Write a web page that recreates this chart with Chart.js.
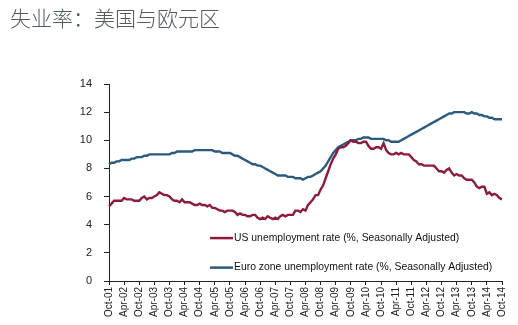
<!DOCTYPE html>
<html>
<head>
<meta charset="utf-8">
<script src="https://cdn.jsdelivr.net/npm/chart.js@4.4.1/dist/chart.umd.min.js"></script>
<style>
html,body{margin:0;padding:0;background:#fff;}
#wrap{position:relative;width:518px;height:325px;}
</style>
</head>
<body>
<div id="wrap"><canvas id="c" width="518" height="325"></canvas></div>
<script>
const title = "失业率：美国与欧元区";
const monthNames = ["Jan","Feb","Mar","Apr","May","Jun","Jul","Aug","Sep","Oct","Nov","Dec"];
// Monthly categories Oct-01 .. Oct-14
const categories = [];
for (let y = 2001; y <= 2014; y++) {
  for (let m = 0; m < 12; m++) {
    if (y === 2001 && m < 9) continue;
    if (y === 2014 && m > 9) continue;
    categories.push(monthNames[m] + "-" + String(y % 100).padStart(2, "0"));
  }
}
const usLabel = "US unemployment rate (%, Seasonally Adjusted)";
const euLabel = "Euro zone unemployment rate (%, Seasonally Adjusted)";
const usRate = [
  5.3,5.5,5.7,
  5.7,5.7,5.7,5.9,5.8,5.8,5.8,5.7,5.7,5.7,5.9,6.0,
  5.8,5.9,5.9,6.0,6.1,6.3,6.2,6.1,6.1,6.0,5.8,5.7,
  5.7,5.6,5.8,5.6,5.6,5.6,5.5,5.4,5.4,5.5,5.4,5.4,
  5.3,5.4,5.2,5.2,5.1,5.0,5.0,4.9,5.0,5.0,5.0,4.9,
  4.7,4.8,4.7,4.7,4.6,4.6,4.7,4.7,4.5,4.4,4.5,4.4,
  4.6,4.5,4.4,4.5,4.4,4.6,4.7,4.6,4.7,4.7,4.7,5.0,
  5.0,4.9,5.1,5.0,5.4,5.6,5.8,6.1,6.1,6.5,6.8,7.3,
  7.8,8.3,8.7,9.0,9.4,9.5,9.5,9.6,9.8,10.0,9.9,9.9,
  9.8,9.8,9.9,9.9,9.6,9.4,9.4,9.5,9.5,9.4,9.8,9.3,
  9.1,9.0,9.0,9.1,9.0,9.1,9.0,9.0,9.0,8.8,8.6,8.5,
  8.3,8.3,8.2,8.2,8.2,8.2,8.2,8.0,7.8,7.8,7.7,7.9,
  8.0,7.7,7.5,7.6,7.5,7.5,7.3,7.2,7.2,7.2,7.0,6.7,
  6.6,6.7,6.7,6.2,6.3,6.1,6.2,6.1,5.9,5.8
];
const euroRate = [
  8.3,8.4,8.4,
  8.5,8.5,8.6,8.6,8.6,8.6,8.7,8.7,8.8,8.8,8.8,8.9,
  8.9,9.0,9.0,9.0,9.0,9.0,9.0,9.0,9.0,9.0,9.1,9.1,
  9.2,9.2,9.2,9.2,9.2,9.2,9.2,9.3,9.3,9.3,9.3,9.3,
  9.3,9.3,9.3,9.2,9.2,9.2,9.1,9.1,9.1,9.1,9.0,8.9,
  8.9,8.8,8.7,8.6,8.5,8.4,8.3,8.3,8.2,8.2,8.1,8.0,
  7.9,7.8,7.7,7.6,7.5,7.5,7.5,7.5,7.4,7.4,7.4,7.3,
  7.3,7.3,7.2,7.3,7.4,7.4,7.5,7.6,7.7,7.8,8.0,8.2,
  8.5,8.8,9.1,9.3,9.5,9.6,9.7,9.8,9.9,10.0,10.0,10.0,
  10.1,10.1,10.2,10.2,10.2,10.1,10.1,10.1,10.1,10.1,10.1,10.0,
  10.0,9.9,9.9,9.9,9.9,10.0,10.1,10.2,10.3,10.4,10.5,10.6,
  10.7,10.8,10.9,11.0,11.1,11.2,11.3,11.4,11.5,11.6,11.7,11.8,
  11.9,11.9,12.0,12.0,12.0,12.0,12.0,11.9,11.9,12.0,11.9,11.9,
  11.8,11.8,11.7,11.7,11.6,11.6,11.5,11.5,11.5,11.5
];
const yTicks = [0,2,4,6,8,10,12,14];

const usColor = "#8E1B3B";
const euColor = "#2A5A80";

const titlePlugin = {
  id: "cnTitle",
  afterDraw(chart) {
    const ctx = chart.ctx;
    ctx.save();
    ctx.font = "300 21px 'Noto Sans CJK SC'";
    ctx.fillStyle = "#505a60";
    ctx.textBaseline = "middle";
    ctx.textAlign = "left";
    ctx.fillText(title, 10, 18);
    ctx.restore();
  }
};
const legendPlugin = {
  id: "inLegend",
  afterDatasetsDraw(chart) {
    const ctx = chart.ctx;
    const ys = chart.scales.y;
    const xs = chart.scales.x;
    ctx.save();
    ctx.font = "10.4px 'Liberation Sans', Arial, sans-serif";
    ctx.textBaseline = "middle";
    ctx.fillStyle = "#111";
    const rows = [[chart.data.datasets[0], ys.getPixelForValue(3.05)], [chart.data.datasets[1], ys.getPixelForValue(0.95)]];
    const x0 = xs.left + 101;
    rows.forEach(([ds, y]) => {
      ctx.strokeStyle = ds.borderColor;
      ctx.lineWidth = 2.5;
      ctx.beginPath();
      ctx.moveTo(x0, y);
      ctx.lineTo(x0 + 23, y);
      ctx.stroke();
      ctx.fillText(ds.label, x0 + 24, y);
    });
    ctx.restore();
  }
};

new Chart(document.getElementById("c"), {
  type: "line",
  data: {
    labels: categories,
    datasets: [
      { label: usLabel, data: usRate, borderColor: usColor, backgroundColor: usColor, borderWidth: 2.4, pointRadius: 0, tension: 0 },
      { label: euLabel, data: euroRate, borderColor: euColor, backgroundColor: euColor, borderWidth: 2.4, pointRadius: 0, tension: 0 }
    ]
  },
  options: {
    responsive: false,
    animation: false,
    layout: { padding: { top: 84, right: 16, left: 0, bottom: 0 } },
    plugins: { legend: { display: false }, tooltip: { enabled: false }, title: { display: false } },
    scales: {
      x: {
        type: "category",
        offset: false,
        grid: { display: true, drawOnChartArea: false, drawTicks: true, tickLength: 4, color: "#222", tickColor: "#222" },
        border: { display: true, color: "#222", width: 1 },
        ticks: {
          autoSkip: false, maxRotation: 90, minRotation: 90, padding: 2,
          color: "#222", font: { size: 10, family: "'Liberation Sans', Arial, sans-serif" },
          callback: function(v, i) { return i % 6 === 0 ? categories[i] : null; }
        },
        afterFit(scale) { scale.height = 44; }
      },
      y: {
        min: 0, max: 14,
        grid: { display: true, drawOnChartArea: false, drawTicks: true, tickLength: 5, color: "#222", tickColor: "#222" },
        border: { display: true, color: "#222", width: 1 },
        afterBuildTicks(scale) { scale.ticks = yTicks.map(v => ({ value: v })); },
        ticks: {
          padding: 12, color: "#222", font: { size: 11, family: "'Liberation Sans', Arial, sans-serif" }
        },
        afterFit(scale) { scale.width = 109; }
      }
    }
  },
  plugins: [titlePlugin, legendPlugin]
});
</script>
</body>
</html>
